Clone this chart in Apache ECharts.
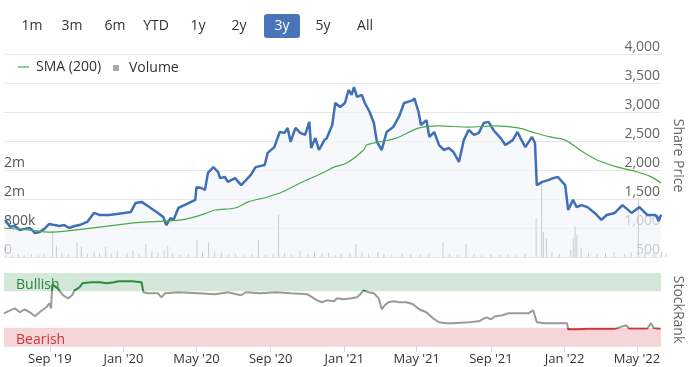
<!DOCTYPE html>
<html><head><meta charset="utf-8">
<script src="https://cdn.jsdelivr.net/npm/echarts@6/dist/echarts.min.js"></script>
<style>html,body{margin:0;padding:0;background:#fff}#c{width:693px;height:367px}</style>
</head><body><div id="c"></div>
<script>
// ---- data ----
const priceDates = ['2019-06-19','2019-06-27','2019-07-05','2019-07-13','2019-07-21','2019-07-30','2019-08-07','2019-08-15','2019-08-23','2019-08-31','2019-09-09','2019-09-17','2019-09-25','2019-10-03','2019-10-12','2019-10-20','2019-11-02','2019-11-13','2019-11-22','2019-12-08','2019-12-21','2020-01-02','2020-01-13','2020-01-21','2020-01-31','2020-02-08','2020-02-20','2020-02-25','2020-03-07','2020-03-12','2020-03-19','2020-03-24','2020-04-01','2020-04-18','2020-04-29','2020-05-01','2020-05-09','2020-05-15','2020-05-20','2020-05-29','2020-06-06','2020-06-09','2020-06-17','2020-06-22','2020-07-04','2020-07-14','2020-07-22','2020-07-30','2020-08-07','2020-08-22','2020-08-27','2020-09-07','2020-09-16','2020-09-24','2020-09-29','2020-10-04','2020-10-12','2020-10-20','2020-10-28','2020-11-04','2020-11-07','2020-11-14','2020-11-20','2020-11-29','2020-12-03','2020-12-12','2020-12-17','2020-12-25','2021-01-02','2021-01-08','2021-01-13','2021-01-17','2021-01-22','2021-01-30','2021-02-04','2021-02-12','2021-02-19','2021-02-24','2021-03-04','2021-03-12','2021-03-23','2021-04-02','2021-04-10','2021-04-25','2021-04-27','2021-05-04','2021-05-08','2021-05-17','2021-05-22','2021-05-30','2021-06-07','2021-06-15','2021-06-23','2021-07-01','2021-07-10','2021-07-18','2021-07-26','2021-08-04','2021-08-12','2021-08-20','2021-08-28','2021-09-05','2021-09-17','2021-09-25','2021-10-07','2021-10-15','2021-10-20','2021-10-28','2021-11-08','2021-11-13','2021-11-16','2021-11-25','2021-12-05','2021-12-13','2021-12-21','2022-01-02','2022-01-07','2022-01-15','2022-01-21','2022-01-29','2022-02-08','2022-02-20','2022-03-03','2022-03-12','2022-03-25','2022-04-07','2022-04-22','2022-05-05','2022-05-18','2022-06-01','2022-06-06','2022-06-10'];
const priceValues = [1140,1020,1035,965,985,1000,915,930,985,1070,1050,1035,1050,1000,1035,1050,1105,1260,1225,1225,1240,1260,1275,1430,1450,1395,1310,1275,1190,1050,1170,1140,1345,1430,1485,1705,1690,1655,1950,2050,1965,1860,1880,1795,1860,1740,1825,1915,2050,2085,2295,2395,2655,2640,2725,2485,2725,2640,2605,2830,2380,2550,2345,2515,2550,2775,3155,3085,3155,3380,3295,3430,3260,3295,3155,3000,2810,2485,2345,2655,2740,2930,3155,3205,3240,3000,2775,2860,2570,2655,2430,2345,2380,2310,2140,2515,2690,2605,2640,2810,2830,2690,2550,2430,2515,2655,2550,2395,2570,2465,1740,1795,1825,1860,1880,1740,1310,1485,1360,1395,1360,1260,1140,1225,1260,1395,1260,1360,1225,1225,1120,1230];

const smaDates = ['2019-06-17','2019-07-30','2019-08-31','2019-10-12','2019-11-22','2020-01-14','2020-02-11','2020-04-06','2020-05-09','2020-06-01','2020-07-04','2020-07-26','2020-08-27','2020-09-20','2020-10-20','2020-11-29','2020-12-15','2021-01-05','2021-02-02','2021-02-07','2021-03-01','2021-03-28','2021-05-05','2021-06-07','2021-07-26','2021-09-07','2021-10-16','2021-11-13','2021-12-08','2022-01-02','2022-02-03','2022-02-28','2022-03-30','2022-05-02','2022-05-22','2022-06-10'];
const smaValues = [1000,965,930,965,1015,1085,1105,1140,1225,1310,1345,1450,1535,1620,1775,1965,2050,2120,2345,2430,2485,2550,2725,2760,2740,2760,2725,2640,2570,2515,2295,2155,2050,1965,1895,1775];

const volDates = ['2019-06-20','2019-07-01','2019-07-10','2019-07-20','2019-08-01','2019-08-12','2019-08-22','2019-09-05','2019-09-11','2019-09-20','2019-10-01','2019-10-15','2019-10-22','2019-11-01','2019-11-12','2019-11-21','2019-12-01','2019-12-10','2019-12-20','2020-01-05','2020-01-15','2020-01-25','2020-02-05','2020-02-15','2020-02-25','2020-03-06','2020-03-12','2020-03-20','2020-04-01','2020-04-15','2020-04-29','2020-05-08','2020-05-18','2020-05-28','2020-06-08','2020-06-20','2020-07-01','2020-07-15','2020-07-28','2020-08-08','2020-08-20','2020-09-01','2020-09-10','2020-09-20','2020-10-01','2020-10-15','2020-10-28','2020-11-08','2020-11-20','2020-12-01','2020-12-12','2020-12-22','2021-01-05','2021-01-15','2021-01-25','2021-02-05','2021-02-20','2021-03-02','2021-03-15','2021-04-01','2021-04-15','2021-05-01','2021-05-15','2021-06-07','2021-06-18','2021-07-01','2021-07-15','2021-07-28','2021-08-10','2021-08-25','2021-09-08','2021-09-22','2021-10-05','2021-10-20','2021-11-07','2021-11-16','2021-11-19','2021-11-24','2021-12-03','2021-12-15','2022-01-03','2022-01-07','2022-01-10','2022-01-13','2022-01-20','2022-02-01','2022-02-15','2022-03-01','2022-03-15','2022-04-01','2022-04-12','2022-04-24','2022-05-05','2022-05-20','2022-06-01','2022-06-08'];
const volValues = [60000,40000,80000,50000,70000,45000,90000,720000,330000,120000,80000,410000,280000,90000,150000,110000,280000,100000,160000,120000,180000,100000,360000,150000,120000,180000,300000,120000,60000,80000,470000,150000,390000,150000,120000,60000,90000,50000,80000,470000,60000,90000,1170000,120000,70000,160000,80000,150000,90000,120000,60000,90000,120000,360000,150000,100000,140000,90000,60000,80000,60000,70000,100000,410000,80000,60000,360000,70000,50000,80000,60000,70000,50000,90000,1070000,2100000,700000,500000,150000,90000,200000,500000,850000,600000,250000,120000,90000,110000,140000,100000,130000,1650000,120000,90000,150000,100000];

const rankDates = ['2019-06-17','2019-06-27','2019-07-05','2019-07-13','2019-07-21','2019-07-30','2019-08-07','2019-08-15','2019-08-26','2019-08-31','2019-09-03','2019-09-05','2019-09-09','2019-09-14','2019-09-23','2019-10-01','2019-10-08','2019-10-12','2019-10-20','2019-10-25','2019-11-08','2019-11-22','2019-12-05','2019-12-16','2019-12-24','2020-01-15','2020-01-31','2020-02-02','2020-02-03','2020-02-11','2020-02-27','2020-03-04','2020-03-10','2020-04-01','2020-05-04','2020-06-01','2020-06-22','2020-07-14','2020-07-22','2020-08-15','2020-09-09','2020-10-04','2020-11-01','2020-11-09','2020-11-17','2020-11-25','2020-12-03','2020-12-15','2020-12-20','2020-12-31','2021-01-13','2021-01-22','2021-01-26','2021-02-02','2021-02-10','2021-02-19','2021-02-27','2021-03-04','2021-03-09','2021-03-15','2021-03-23','2021-04-02','2021-04-14','2021-04-25','2021-05-05','2021-05-17','2021-05-28','2021-06-07','2021-06-19','2021-06-30','2021-07-26','2021-08-12','2021-08-24','2021-09-01','2021-09-08','2021-09-20','2021-09-30','2021-10-11','2021-10-23','2021-11-02','2021-11-10','2021-11-16','2021-11-29','2021-12-21','2022-01-05','2022-01-07','2022-01-23','2022-02-08','2022-03-03','2022-03-25','2022-04-13','2022-04-18','2022-05-18','2022-05-24','2022-05-29','2022-06-09'];
const rankValues = [44.8,48.9,51.6,46.2,50.3,46.2,40.7,46.2,53,58.5,51.6,84,82,79,69.5,65.3,69.5,76.3,80.4,85.9,87.3,87.3,85.9,87.3,88.6,88.6,87.3,87.3,73.6,72.2,72.2,66.7,72.2,73.6,72.2,70.8,73.6,69.5,73.6,72.2,73.6,72.2,70.8,66.7,62.6,59.9,62.6,61.2,65.3,64,65.3,66.7,69.5,76.3,73.6,72.2,65.3,50.3,55.8,59.9,61.2,59.9,59.9,57.1,50.3,46.2,37.9,32.5,31.1,31.1,32.5,33.8,39.3,36.6,40.7,42.1,44.8,44.8,44.8,44.8,48.9,32.5,31.1,31.1,31.1,22.9,22.9,23.5,23.5,23.5,28.4,24,24,31.1,24.5,23.5];

const tickDates = ['2019-09-01','2020-01-01','2020-05-01','2020-09-01','2021-01-01','2021-05-01','2021-09-01','2022-01-01','2022-05-01'];
const tickLabels = ["Sep '19","Jan '20","May '20","Sep '20","Jan '21","May '21","Sep '21","Jan '22","May '22"];
const rangeButtons = ['1m','3m','6m','YTD','1y','2y','3y','5y','All'];
const activeButton = '3y';

// ---- build ----
const FONT = '"Open Sans", sans-serif';
const t = s => { const p = s.split('-').map(Number); return Date.UTC(p[0], p[1]-1, p[2]); };
const zip = (ds, vs) => ds.map((d,i) => [t(d), vs[i]]);
const priceData = zip(priceDates, priceValues);
const smaData = zip(smaDates, smaValues);
const volData = zip(volDates, volValues);
const rankData = zip(rankDates, rankValues);
const tickTimes = tickDates.map(t);
const xMin = t('2019-06-17'), xMax = t('2022-06-10');
const tickFmt = v => { const i = tickTimes.findIndex(tt => Math.abs(tt - v) < 43200000); return i < 0 ? '' : tickLabels[i]; };
const volFmt = v => v === 0 ? '0' : (v < 1e6 ? Math.round(v/1000) + 'k' : Math.round(v/1e6) + 'm');

const xBase = {type:'value', min:xMin, max:xMax, axisLabel:{show:false}, axisTick:{show:false}, axisLine:{show:false}, splitLine:{show:false}};
const btnX = [32, 72, 115, 156, 198, 239, 282, 323, 365];

const chart = echarts.init(document.getElementById('c'), null, {renderer:'canvas'});
chart.setOption({
  animation:false,
  textStyle:{fontFamily:FONT},
  grid:[
    {left:4, right:26, top:54, height:203},
    {left:4, right:26, top:170, height:87},
    {left:4, right:26, top:273, height:73}
  ],
  legend:[
    {data:[{name:'SMA (200)', itemStyle:{color:'#8fcf8f'}}], left:13, top:55, icon:'rect', itemWidth:11, itemHeight:2, selectedMode:false,
     textStyle:{fontSize:14, color:'#333', fontFamily:FONT, padding:[0,0,0,2]}},
    {data:[{name:'Volume', itemStyle:{color:'#aaaaaa'}}], left:108, top:56, icon:'rect', itemWidth:6, itemHeight:6, selectedMode:false,
     textStyle:{fontSize:14, color:'#333', fontFamily:FONT, padding:[0,0,0,5]}}
  ],
  xAxis:[
    Object.assign({}, xBase, {gridIndex:0}),
    Object.assign({}, xBase, {gridIndex:1}),
    Object.assign({}, xBase, {gridIndex:2,
      axisLine:{show:true, lineStyle:{color:'#e6e6e6'}},
      axisTick:{show:true, customValues:tickTimes, length:6, lineStyle:{color:'#ccd6eb'}},
      axisLabel:{show:true, customValues:tickTimes, formatter:tickFmt, color:'#333', fontSize:13, margin:7, fontFamily:FONT}})
  ],
  yAxis:[
    {gridIndex:0, type:'value', position:'right', min:500, max:4000, interval:500,
     axisLine:{show:false}, axisTick:{show:false}, splitLine:{lineStyle:{color:'#e6e6e6'}},
     axisLabel:{inside:true, margin:1, align:'right', verticalAlign:'bottom', color:'#666', fontSize:14, fontFamily:FONT,
       formatter: v => v.toLocaleString('en-US')},
     name:'Share Price', nameLocation:'middle', nameRotate:-90, nameGap:5, nameTextStyle:{color:'#666', fontSize:14, fontFamily:FONT}},
    {gridIndex:1, type:'value', position:'left', min:0, max:2400000, interval:800000,
     axisLine:{show:false}, axisTick:{show:false}, splitLine:{show:false},
     axisLabel:{inside:true, margin:0, align:'left', verticalAlign:'bottom', color:'#555', fontSize:14, fontFamily:FONT, formatter:volFmt}},
    {gridIndex:2, type:'value', position:'right', min:0, max:100, interval:100,
     axisLine:{show:false}, axisTick:{show:false}, splitLine:{show:false},
     axisLabel:{inside:true, margin:1, align:'right', verticalAlign:'bottom', color:'#555', fontSize:14, fontFamily:FONT,
       formatter: v => v === 0 ? '0' : ''},
     name:'StockRank', nameLocation:'middle', nameRotate:-90, nameGap:5, nameTextStyle:{color:'#666', fontSize:14, fontFamily:FONT}}
  ],
  visualMap:{show:false, type:'piecewise', seriesIndex:4, dimension:1,
    pieces:[{lt:25, color:'#d0343d'}, {gte:25, lt:75, color:'#9a9a9a'}, {gte:75, color:'#2e8b3e'}]},
  series:[
    {name:'PriceArea', type:'line', xAxisIndex:0, yAxisIndex:0, data:priceData, symbol:'none', silent:true, z:1,
     lineStyle:{width:0}, areaStyle:{color:'#f3f5fb', origin:'start'}},
    {name:'Volume', type:'bar', xAxisIndex:1, yAxisIndex:1, data:volData, barWidth:1, itemStyle:{color:'#cccccc'}, z:2, silent:true},
    {name:'Price', type:'line', xAxisIndex:0, yAxisIndex:0, data:priceData, symbol:'none', z:3,
     lineStyle:{color:'#3f6fb6', width:2.5}},
    {name:'SMA (200)', type:'line', xAxisIndex:0, yAxisIndex:0, data:smaData, symbol:'none', smooth:0.3, z:3,
     itemStyle:{color:'#4aa84a'}, lineStyle:{color:'#4aa84a', width:1.2}},
    {name:'StockRank', type:'line', xAxisIndex:2, yAxisIndex:2, data:rankData, symbol:'none', z:3,
     lineStyle:{width:2},
     markArea:{silent:true, data:[
       [{name:'Bullish', yAxis:75, itemStyle:{color:'#d3e8d8'}, label:{color:'#2e8540'}}, {yAxis:100}],
       [{name:'Bearish', yAxis:0, itemStyle:{color:'#f5d5d8'}, label:{color:'#d0343d'}}, {yAxis:25}]
     ], label:{show:true, position:'insideLeft', distance:12, fontSize:14, fontFamily:FONT, offset:[0,3]}}}
  ],
  graphic:[
    {type:'rect', shape:{x:264, y:14, width:36, height:24, r:3}, style:{fill:'#4a74b9'}},
    ...rangeButtons.map((b, i) => ({type:'text', x:btnX[i], y:26,
      style:{text:b, fill: b === activeButton ? '#fff' : '#333', font:'14px "Open Sans"', textAlign:'center', textVerticalAlign:'middle'}}))
  ]
});
</script></body></html>
